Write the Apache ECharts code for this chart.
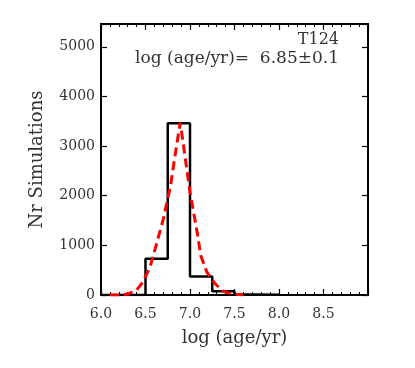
<!DOCTYPE html>
<html>
<head>
<meta charset="utf-8">
<script src="https://cdn.jsdelivr.net/npm/echarts@6/dist/echarts.min.js"></script>
<style>
  html, body { margin: 0; padding: 0; background: #fff; }
  #main { width: 415px; height: 368px; }
</style>
</head>
<body>
<div id="main"></div>
<script>
// histogram bins (left edges + final right edge) and counts
var binEdges = [6.0, 6.5, 6.75, 7.0, 7.25, 7.5, 7.75, 8.0];
var binCounts = [0, 730, 3460, 375, 75, 12, 6];

// red dashed fit curve
var curveX = [6.10, 6.20, 6.30, 6.40, 6.47, 6.55, 6.61, 6.70, 6.78, 6.83, 6.89, 6.92, 7.00, 7.08, 7.12, 7.19, 7.28, 7.37, 7.47, 7.60];
var curveY = [0, 0, 20, 100, 260, 560, 940, 1530, 2190, 2790, 3470, 3100, 2070, 1270, 800, 460, 230, 80, 20, 0];

var labelText = 'T124';
var resultText = 'log (age/yr)=  6.85\u00b10.1';

var histPts = [];
for (var i = 0; i < binCounts.length; i++) histPts.push([binEdges[i], binCounts[i]]);
histPts.push([binEdges[binEdges.length - 1], 0]);

var curvePts = curveX.map(function (x, i) { return [x, curveY[i]]; });

var serif = 'DejaVu Serif';
var txt = '#333';

var myChart = echarts.init(document.getElementById('main'));
var xBase = {
    type: 'value', min: 6, max: 9, interval: 0.5,
    axisLine: {show: true, onZero: false, lineStyle: {color: '#000', width: 2}},
    axisTick: {show: true, inside: true, length: 6, lineStyle: {color: '#000', width: 1.2}},
    minorTick: {show: true, splitNumber: 5, length: 3, lineStyle: {color: '#000', width: 1}},
    splitLine: {show: false}
};
var yBase = {
    type: 'value', min: 0, max: 5460, interval: 1000,
    axisLine: {show: true, onZero: false, lineStyle: {color: '#000', width: 2}},
    axisTick: {show: true, inside: true, length: 6, lineStyle: {color: '#000', width: 1.2}},
    splitLine: {show: false}
};

var option = {
    animation: false,
    grid: {left: 101, top: 24, right: 47, bottom: 73},
    title: [
        {text: labelText, right: 71, top: 27, textStyle: {fontFamily: serif, fontSize: 16, fontWeight: 'normal', color: txt}},
        {text: resultText, right: 71, top: 45, textStyle: {fontFamily: serif, fontSize: 17, fontWeight: 'normal', color: txt}}
    ],
    xAxis: [
        Object.assign({}, xBase, {
            position: 'bottom',
            name: 'log (age/yr)', nameLocation: 'middle', nameGap: 34,
            nameTextStyle: {fontFamily: serif, fontSize: 18, color: txt},
            axisLabel: {
                margin: 12, fontFamily: serif, fontSize: 14, color: txt,
                formatter: function (v) { return v >= 8.99 ? '' : v.toFixed(1); }
            }
        }),
        Object.assign({}, xBase, {position: 'top', axisLabel: {show: false}})
    ],
    yAxis: [
        Object.assign({}, yBase, {
            position: 'left',
            name: 'Nr Simulations', nameLocation: 'middle', nameGap: 55,
            nameTextStyle: {fontFamily: serif, fontSize: 18, color: txt},
            axisLabel: {
                margin: 6, fontFamily: serif, fontSize: 14, color: txt,
                formatter: function (v) { return v % 1000 === 0 ? String(v) : ''; }
            }
        }),
        Object.assign({}, yBase, {position: 'right', axisLabel: {show: false}})
    ],
    series: [
        {
            type: 'line', data: histPts, step: 'end', symbol: 'none',
            lineStyle: {color: '#000', width: 2.5}, z: 3
        },
        {
            type: 'line', data: curvePts, symbol: 'none',
            lineStyle: {color: '#ff0000', width: 3, type: [9, 5]}, z: 4
        }
    ]
};
myChart.setOption(option);
</script>
</body>
</html>
